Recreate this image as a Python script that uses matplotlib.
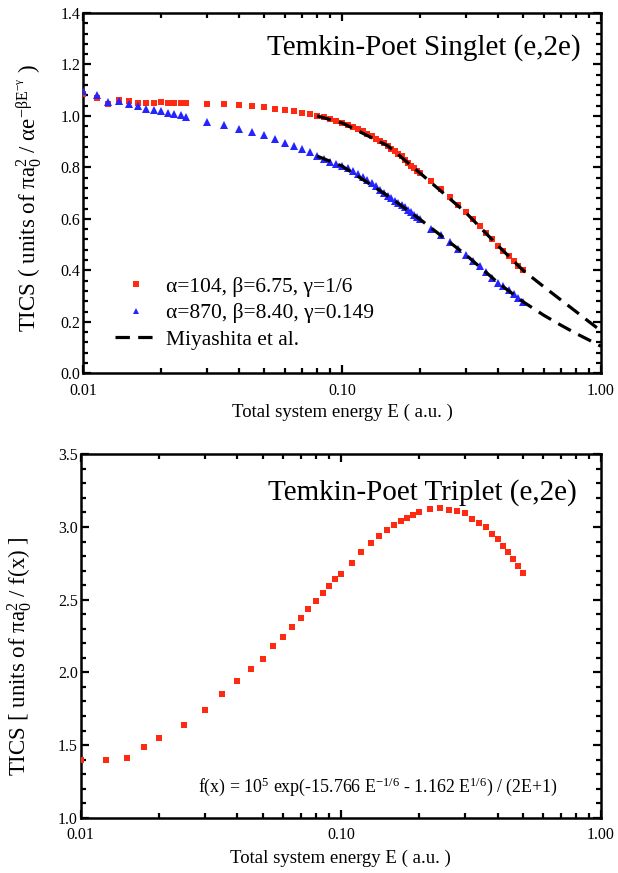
import matplotlib

matplotlib.use("Agg")
import matplotlib.pyplot as plt
from matplotlib.ticker import FixedLocator, LogLocator, MultipleLocator, NullFormatter

plt.rcParams["font.family"] = ["Liberation Serif", "DejaVu Serif"]
plt.rcParams["mathtext.fontset"] = "custom"
plt.rcParams["mathtext.rm"] = "Liberation Serif"
plt.rcParams["mathtext.it"] = "Liberation Serif:italic"
plt.rcParams["mathtext.bf"] = "Liberation Serif:bold"

# --- singlet (top panel) ---
singlet_E = [0.01, 0.01125, 0.0125, 0.01375, 0.015, 0.01625, 0.0175, 0.01875, 0.02,
             0.02125, 0.0225, 0.02375, 0.025,
             0.03, 0.035, 0.04, 0.045, 0.05, 0.055, 0.06, 0.065, 0.07, 0.075,
             0.08, 0.085, 0.09, 0.095, 0.10, 0.105, 0.11, 0.115, 0.12, 0.125, 0.13,
             0.135, 0.14, 0.145, 0.15, 0.155, 0.16, 0.165, 0.17, 0.175, 0.18, 0.185,
             0.19, 0.195, 0.20,
             0.22, 0.24, 0.26, 0.28, 0.30, 0.32, 0.34, 0.36, 0.38, 0.40, 0.42, 0.44,
             0.46, 0.48, 0.50]
singlet_a104 = [1.087, 1.070, 1.048, 1.061, 1.057, 1.052, 1.052, 1.052, 1.054,
                1.052, 1.052, 1.052, 1.052,
                1.046, 1.046, 1.044, 1.040, 1.034, 1.028, 1.023, 1.019, 1.013, 1.006,
                1.000, 0.994, 0.987, 0.980, 0.973, 0.965, 0.957, 0.948, 0.940, 0.931, 0.921,
                0.911, 0.901, 0.893, 0.884, 0.873, 0.864, 0.854, 0.844, 0.830, 0.818, 0.806,
                0.797, 0.787, 0.778,
                0.746, 0.716, 0.685, 0.653, 0.625, 0.598, 0.571, 0.546, 0.521, 0.496, 0.476, 0.454,
                0.436, 0.416, 0.400]
singlet_a870 = [1.096, 1.080, 1.054, 1.060, 1.048, 1.038, 1.028, 1.025, 1.021,
                1.013, 1.006, 1.003, 0.997,
                0.978, 0.963, 0.948, 0.937, 0.925, 0.910, 0.896, 0.883, 0.870, 0.858,
                0.844, 0.834, 0.822, 0.813, 0.805, 0.796, 0.787, 0.776, 0.764, 0.752, 0.741,
                0.727, 0.713, 0.700, 0.690, 0.680, 0.671, 0.663, 0.654, 0.645, 0.636, 0.626,
                0.616, 0.607, 0.598,
                0.562, 0.536, 0.510, 0.484, 0.461, 0.437, 0.415, 0.392, 0.369, 0.352, 0.338, 0.324,
                0.308, 0.293, 0.278]

miya_E = [0.08, 0.10, 0.15, 0.20, 0.30, 0.40, 0.50, 0.60, 0.70, 0.80, 0.90, 1.00]
miya_upper = [1.000, 0.973, 0.884, 0.778, 0.625, 0.496, 0.400, 0.337, 0.285, 0.240, 0.200, 0.165]
miya_lower = [0.844, 0.805, 0.690, 0.598, 0.461, 0.352, 0.278, 0.226, 0.187, 0.155, 0.129, 0.105]

# --- triplet (bottom panel) ---
triplet_E = [0.01, 0.0125, 0.015, 0.0175, 0.02, 0.025, 0.03, 0.035, 0.04, 0.045, 0.05,
             0.055, 0.06, 0.065, 0.07, 0.075, 0.08, 0.085, 0.09, 0.095, 0.10,
             0.11, 0.12, 0.13, 0.14, 0.15, 0.16, 0.17, 0.18, 0.19, 0.20,
             0.22, 0.24, 0.26, 0.28, 0.30, 0.32, 0.34, 0.36, 0.38, 0.40, 0.42, 0.44,
             0.46, 0.48, 0.50]
triplet_vals = [1.40, 1.40, 1.41, 1.49, 1.55, 1.64, 1.74, 1.85, 1.94, 2.02, 2.09,
                2.18, 2.245, 2.314, 2.376, 2.435, 2.493, 2.547, 2.595, 2.641, 2.680,
                2.754, 2.825, 2.887, 2.937, 2.978, 3.012, 3.042, 3.065, 3.083, 3.104,
                3.124, 3.129, 3.117, 3.113, 3.097, 3.058, 3.028, 3.001, 2.951, 2.914,
                2.870, 2.825, 2.779, 2.731, 2.685]

RED = "#ff2a12"
BLUE = "#2424ff"


def style_axis(ax, ymajor, yminor):
    ax.set_xscale("log")
    ax.set_xlim(0.01, 1.0)
    ax.xaxis.set_major_locator(FixedLocator([0.01, 0.1, 1.0]))
    ax.set_xticklabels(["0.01", "0.10", "1.00"])
    ax.xaxis.set_minor_locator(LogLocator(base=10, subs=range(2, 10)))
    ax.xaxis.set_minor_formatter(NullFormatter())
    ax.yaxis.set_major_locator(MultipleLocator(ymajor))
    ax.yaxis.set_minor_locator(MultipleLocator(yminor))
    ax.yaxis.set_major_formatter(matplotlib.ticker.FormatStrFormatter("%.1f"))
    ax.tick_params(which="both", direction="in", top=True, right=True, width=1.6)
    ax.tick_params(which="major", length=6, labelsize=11.5)
    ax.tick_params(axis="x", which="major", pad=7)
    ax.tick_params(axis="y", which="major", pad=2)
    ax.tick_params(which="minor", length=3.5)
    for sp in ax.spines.values():
        sp.set_linewidth(1.8)


fig = plt.figure(figsize=(6.18, 8.73), dpi=100)
ax1 = fig.add_axes([0.1348, 0.5724, 0.8377, 0.4127])
ax2 = fig.add_axes([0.1306, 0.0633, 0.8420, 0.4163])

# top panel
ax1.plot(singlet_E, singlet_a104, "s", color=RED, ms=4.3, mew=0, label=r"α=104, β=6.75, γ=1/6", zorder=3)
ax1.plot(singlet_E, singlet_a870, "^", color=BLUE, ms=5.3, mew=0, label=r"α=870, β=8.40, γ=0.149", zorder=3)
ax1.plot(miya_E, miya_upper, color="black", lw=2.3, dashes=(4.5, 2.6), label="Miyashita et al.", zorder=4)
ax1.plot(miya_E, miya_lower, color="black", lw=2.3, dashes=(4.5, 2.6), zorder=4)
ax1.set_ylim(0.0, 1.4)
style_axis(ax1, 0.2, 0.04)
ax1.set_xlabel("Total system energy E ( a.u. )", fontsize=13.5)
ax1.set_ylabel(r"TICS ( units of π$\mathrm{a}_0^2$ / αe$^{\mathrm{-βE}^{\mathrm{-γ}}}$ )", fontsize=16.5)
ax1.xaxis.set_label_coords(0.5, -0.083)
ax1.yaxis.set_label_coords(-0.076, 0.487)
ax1.text(0.961, 0.903, "Temkin-Poet Singlet (e,2e)", transform=ax1.transAxes,
         ha="right", va="center", fontsize=21)
leg = ax1.legend(loc="lower left", bbox_to_anchor=(0.061, 0.066), frameon=False, fontsize=15.5,
                 handlelength=1.95, handletextpad=0.42, labelspacing=0.29, borderpad=0,
                 borderaxespad=0, markerscale=0.85)

# bottom panel
ax2.plot(triplet_E, triplet_vals, "s", color=RED, ms=4.6, mew=0, zorder=3)
ax2.set_ylim(1.0, 3.5)
style_axis(ax2, 0.5, 0.1)
ax2.set_xlabel("Total system energy E ( a.u. )", fontsize=13.5)
ax2.set_ylabel(r"TICS [ units of π$\mathrm{a}_0^2$ / f(x) ]", fontsize=16.5)
ax2.xaxis.set_label_coords(0.5, -0.087)
ax2.yaxis.set_label_coords(-0.089, 0.445)
ax2.text(0.954, 0.896, "Temkin-Poet Triplet (e,2e)", transform=ax2.transAxes,
         ha="right", va="center", fontsize=21)
ax2.text(0.571, 0.085, r"f(x) = 10$^5$ exp(-15.766 E$^{-1/6}$ - 1.162 E$^{1/6}$) / (2E+1)",
         transform=ax2.transAxes, ha="center", va="center", fontsize=12.9)

fig.savefig("out.png", dpi=100)
